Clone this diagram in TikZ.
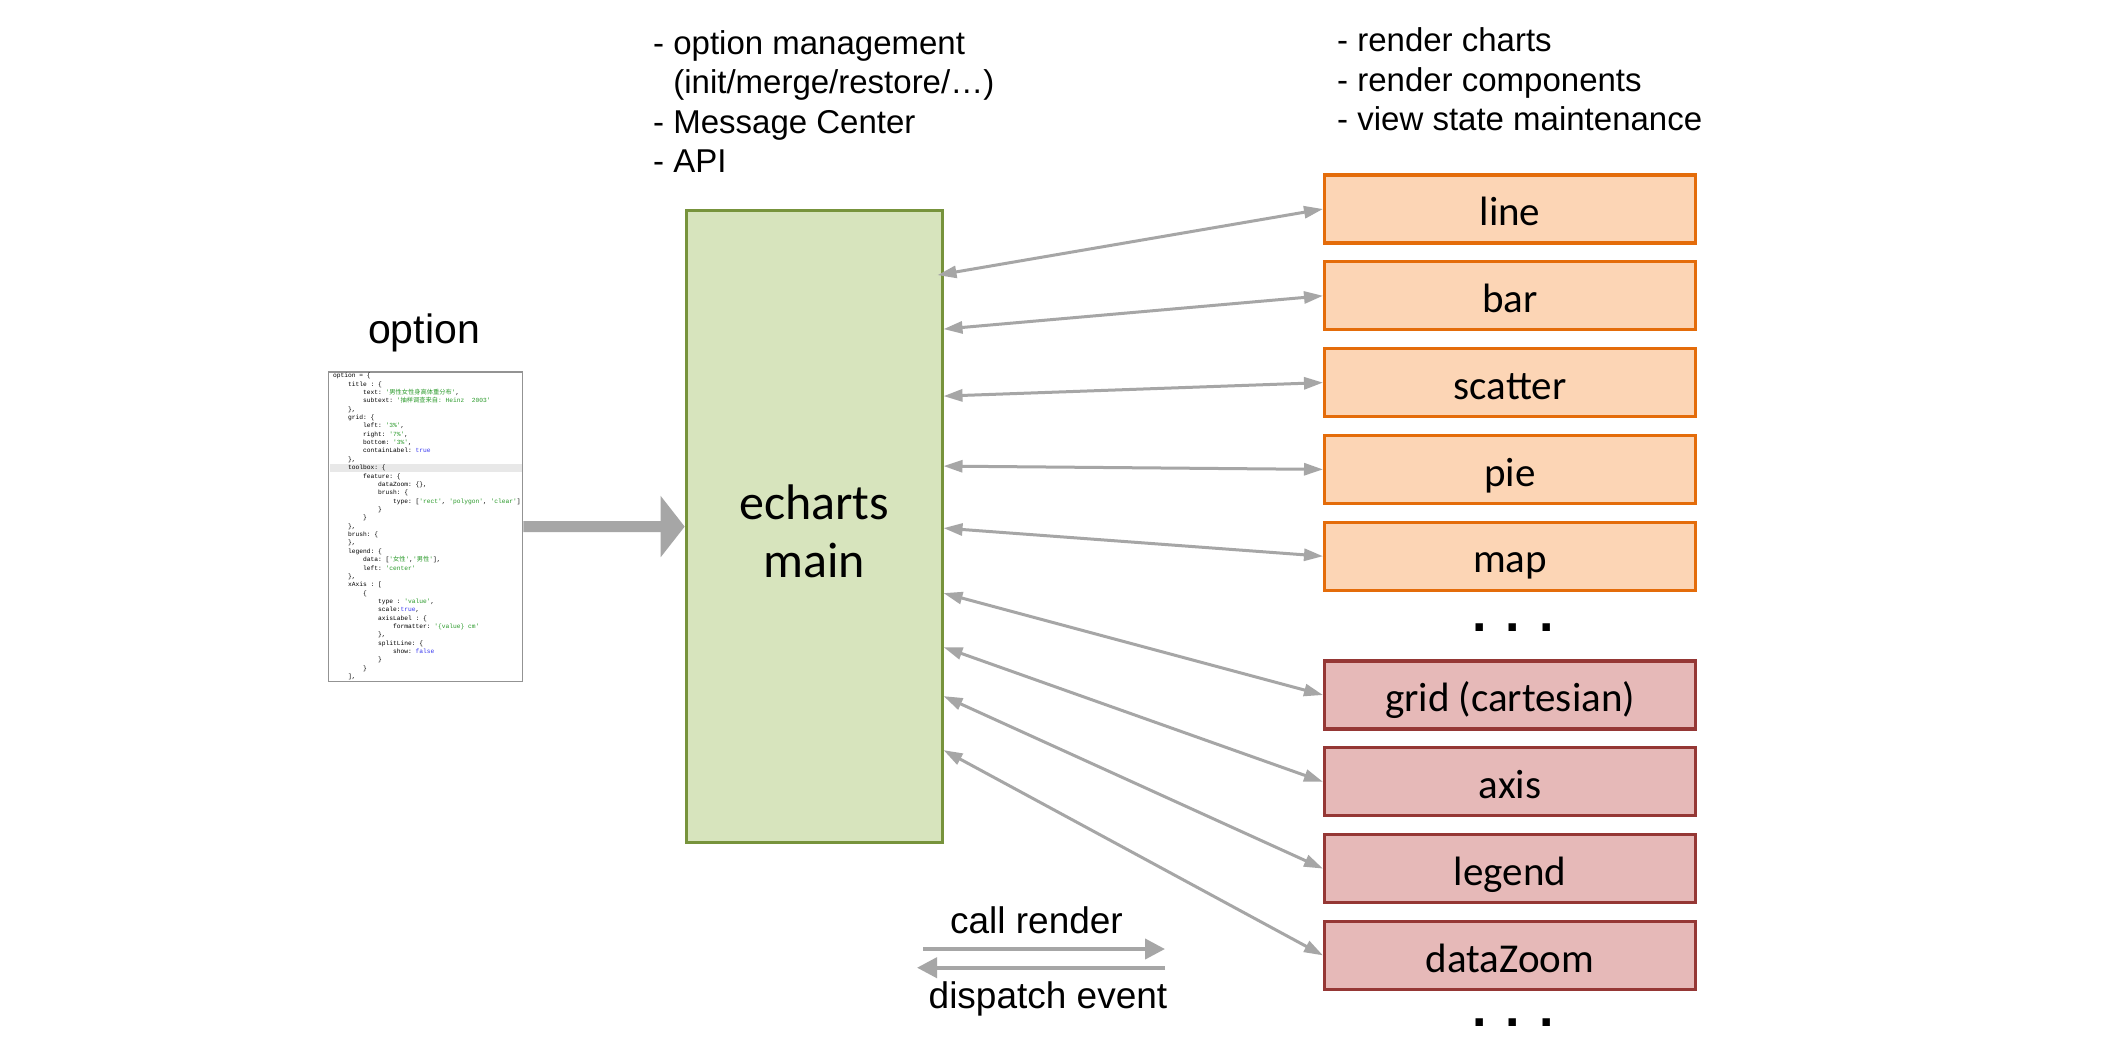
\documentclass[tikz,border=0pt]{standalone}
\usepackage{fontspec}
\setmainfont{Liberation Sans}
\setmonofont{Liberation Mono}
\newfontfamily\boxfont{Carlito}
\newfontfamily\cjkfont{Noto Sans CJK SC}
\usetikzlibrary{arrows.meta,positioning}

\definecolor{chartfill}{HTML}{FCD5B5}
\definecolor{chartline}{HTML}{E46C0A}
\definecolor{compfill}{HTML}{E6B9B8}
\definecolor{compline}{HTML}{953735}
\definecolor{mainfill}{HTML}{D7E4BD}
\definecolor{mainline}{HTML}{77933C}
\definecolor{linkgray}{HTML}{A6A6A6}
\definecolor{codeframe}{HTML}{939393}
\definecolor{codehl}{HTML}{E8E8E8}
\definecolor{codegreen}{HTML}{2A9A2A}
\definecolor{codeblue}{HTML}{3A3AF0}

\newcommand{\str}[1]{\textcolor{codegreen}{#1}}
\newcommand{\kw}[1]{\textcolor{codeblue}{#1}}
\newcommand{\ind}[1]{\hspace*{\the\numexpr#1*15\relax pt}}

\begin{document}
\begin{tikzpicture}[
x=1pt, y=-1pt,
node distance=15.5pt,
toptext/.style={font=\fontsize{33}{39.5}\selectfont, align=left, anchor=north west, inner sep=0pt},
chartbox/.style={draw=chartline, fill=chartfill, line width=3.3pt, minimum width=370.7pt, minimum height=68pt, text height=33.4pt, text depth=0pt, font=\boxfont\fontsize{41}{48}\selectfont},
compbox/.style={chartbox, draw=compline, fill=compfill},
mainbox/.style={draw=mainline, fill=mainfill, line width=3pt, minimum width=255.8pt, minimum height=632.3pt, align=center, font=\boxfont\fontsize{50}{58}\selectfont},
codebox/.style={draw=codeframe, line width=1.5pt, minimum width=193.8pt, minimum height=309.5pt},
dots/.style={anchor=base, inner sep=0pt, font=\bfseries\fontsize{52}{60}\selectfont},
link/.style={draw=linkgray, line width=3pt, {Triangle[length=19pt,width=12pt]}-{Triangle[length=19pt,width=12pt]}},
legendarrow/.style={draw=linkgray, line width=4pt, -{Triangle[length=20pt,width=20pt]}},
]
\fill[white] (0,0) rectangle (2115,1053);
\useasboundingbox (0,0) rectangle (2115,1053);

%Nodes
\node[toptext] (tasks) at (653,30) {- option management\\\phantom{- }(init/merge/restore/\dots)\\- Message Center\\- API};
\node[toptext, font=\fontsize{33}{39.7}\selectfont] (views) at (1337,27.4) {- render charts\\- render components\\- view state maintenance};

\node[anchor=base, font=\fontsize{41}{48}\selectfont] (optlabel) at (424,343) {option};
\node[codebox] (code) at (425.6,526.5) {};
\fill[codehl] (329.5,463.5) rectangle (522,471.8);
\node[anchor=north west, inner sep=0pt, align=left, font=\ttfamily\fontsize{6.25}{8.36}\selectfont] (codetext) at (333,373) {%
option = \{\\
\ind{1}title : \{\\
\ind{2}text: \str{'{\cjkfont 男性女性身高体重分布}'},\\
\ind{2}subtext: \str{'{\cjkfont 抽样调查来自}: Heinz~~2003'}\\
\ind{1}\},\\
\ind{1}grid: \{\\
\ind{2}left: \str{'3\%'},\\
\ind{2}right: \str{'7\%'},\\
\ind{2}bottom: \str{'3\%'},\\
\ind{2}containLabel: \kw{true}\\
\ind{1}\},\\
\ind{1}toolbox: \{\\
\ind{2}feature: \{\\
\ind{3}dataZoom: \{\},\\
\ind{3}brush: \{\\
\ind{4}type: [\str{'rect'}, \str{'polygon'}, \str{'clear'}]\\
\ind{3}\}\\
\ind{2}\}\\
\ind{1}\},\\
\ind{1}brush: \{\\
\ind{1}\},\\
\ind{1}legend: \{\\
\ind{2}data: [\str{'{\cjkfont 女性}'},\str{'{\cjkfont 男性}'}],\\
\ind{2}left: \str{'center'}\\
\ind{1}\},\\
\ind{1}xAxis : [\\
\ind{2}\{\\
\ind{3}type : \str{'value'},\\
\ind{3}scale:\kw{true},\\
\ind{3}axisLabel : \{\\
\ind{4}formatter: \str{'\{value\} cm'}\\
\ind{3}\},\\
\ind{3}splitLine: \{\\
\ind{4}show: \kw{false}\\
\ind{3}\}\\
\ind{2}\}\\
\ind{1}],};

\node[mainbox] (main) at (814.1,526.6) {\rule{0pt}{45pt}echarts\\main};

\node[chartbox] (line)    at (1510,209) {line};
\node[chartbox] (bar)     [below=of line] {bar};
\node[chartbox] (scatter) [below=of bar] {scatter};
\node[chartbox] (pie)     [below=of scatter] {pie};
\node[chartbox] (map)     [below=of pie] {map};
\node[dots]     (more1)   at (1513,631) {. . .};

\node[compbox]  (grid)     at (1510,695) {grid (cartesian)};
\node[compbox]  (axis)     [below=of grid] {axis};
\node[compbox]  (legend)   [below=of axis] {legend};
\node[compbox]  (datazoom) [below=of legend] {dataZoom};
\node[dots]     (more2)    at (1513,1026) {. . .};

\node[anchor=base, font=\fontsize{37}{44}\selectfont] (callrender) at (1036.5,933) {call render};
\node[anchor=base, font=\fontsize{37}{44}\selectfont] (dispatch) at (1048,1008) {dispatch event};
\coordinate (callA) at (923,949);
\coordinate (callB) at (1165,949);
\coordinate (dispA) at (1165,967.7);
\coordinate (dispB) at (917,967.7);

%Lines
\draw[draw=linkgray, line width=11pt, -{Triangle[length=24pt,width=60pt]}] (code.east) -- (main.west);

\draw[link] ([xshift=-6pt,yshift=251.5pt]main.east) -- (line.west);
\draw[link] ([yshift=197.5pt]main.east) -- (bar.west);
\draw[link] ([yshift=130.5pt]main.east) -- (scatter.west);
\draw[link] ([yshift=60.5pt]main.east) -- (pie.west);
\draw[link] ([yshift=-1.5pt]main.east) -- (map.west);
\draw[link] ([yshift=-66.5pt]main.east) -- (grid.west);
\draw[link] ([yshift=-120.5pt]main.east) -- (axis.west);
\draw[link] ([yshift=-169.5pt]main.east) -- (legend.west);
\draw[link] ([yshift=-223.5pt]main.east) -- (datazoom.west);

\draw[legendarrow] (callA) -- (callB);
\draw[legendarrow] (dispA) -- (dispB);

\end{tikzpicture}
\end{document}
